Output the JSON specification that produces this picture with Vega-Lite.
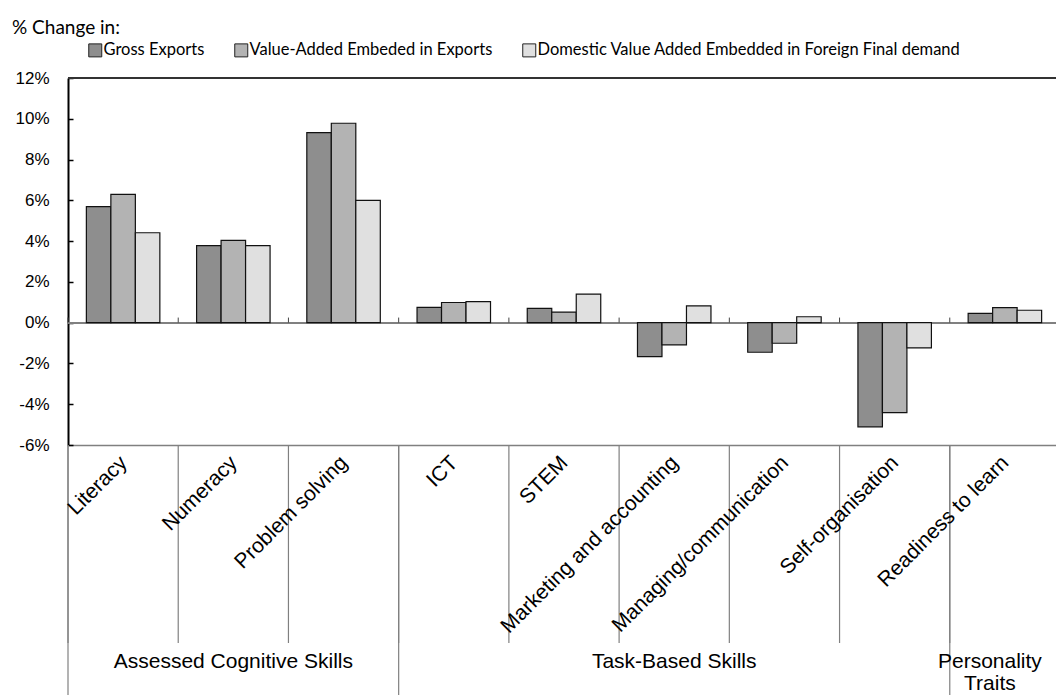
{
  "$schema": "https://vega.github.io/schema/vega-lite/v6.json",
  "width": 992,
  "height": 367,
  "autosize": {"type": "none"},
  "padding": {"left": 68, "top": 78, "right": 0, "bottom": 250},
  "background": "white",
  "config": {"view": {"stroke": null}, "font": "Liberation Sans"},
  "title": {"text": "% Change in:", "anchor": "start", "frame": "group", "dx": -56, "offset": 4, "font": "Lato", "fontSize": 19, "fontWeight": "normal", "color": "black"},
  "datasets": {
    "bars": [
      {"category": "Literacy", "series": "Gross Exports", "value": 5.69},
      {"category": "Literacy", "series": "Value-Added Embeded in Exports", "value": 6.29},
      {"category": "Literacy", "series": "Domestic Value Added Embedded in Foreign Final demand", "value": 4.41},
      {"category": "Numeracy", "series": "Gross Exports", "value": 3.78},
      {"category": "Numeracy", "series": "Value-Added Embeded in Exports", "value": 4.04},
      {"category": "Numeracy", "series": "Domestic Value Added Embedded in Foreign Final demand", "value": 3.78},
      {"category": "Problem solving", "series": "Gross Exports", "value": 9.32},
      {"category": "Problem solving", "series": "Value-Added Embeded in Exports", "value": 9.78},
      {"category": "Problem solving", "series": "Domestic Value Added Embedded in Foreign Final demand", "value": 6.0},
      {"category": "ICT", "series": "Gross Exports", "value": 0.75},
      {"category": "ICT", "series": "Value-Added Embeded in Exports", "value": 0.99},
      {"category": "ICT", "series": "Domestic Value Added Embedded in Foreign Final demand", "value": 1.03},
      {"category": "STEM", "series": "Gross Exports", "value": 0.7},
      {"category": "STEM", "series": "Value-Added Embeded in Exports", "value": 0.52},
      {"category": "STEM", "series": "Domestic Value Added Embedded in Foreign Final demand", "value": 1.4},
      {"category": "Marketing and accounting", "series": "Gross Exports", "value": -1.67},
      {"category": "Marketing and accounting", "series": "Value-Added Embeded in Exports", "value": -1.09},
      {"category": "Marketing and accounting", "series": "Domestic Value Added Embedded in Foreign Final demand", "value": 0.82},
      {"category": "Managing/communication", "series": "Gross Exports", "value": -1.45},
      {"category": "Managing/communication", "series": "Value-Added Embeded in Exports", "value": -1.01},
      {"category": "Managing/communication", "series": "Domestic Value Added Embedded in Foreign Final demand", "value": 0.29},
      {"category": "Self-organisation", "series": "Gross Exports", "value": -5.11},
      {"category": "Self-organisation", "series": "Value-Added Embeded in Exports", "value": -4.41},
      {"category": "Self-organisation", "series": "Domestic Value Added Embedded in Foreign Final demand", "value": -1.24},
      {"category": "Readiness to learn", "series": "Gross Exports", "value": 0.46},
      {"category": "Readiness to learn", "series": "Value-Added Embeded in Exports", "value": 0.74},
      {"category": "Readiness to learn", "series": "Domestic Value Added Embedded in Foreign Final demand", "value": 0.61}
    ],
    "cats": [
      {"category": "Literacy", "group": "Assessed Cognitive Skills", "groupStart": true, "groupLabel": false},
      {"category": "Numeracy", "group": "Assessed Cognitive Skills", "groupStart": false, "groupLabel": true},
      {"category": "Problem solving", "group": "Assessed Cognitive Skills", "groupStart": false, "groupLabel": false},
      {"category": "ICT", "group": "Task-Based Skills", "groupStart": true, "groupLabel": false},
      {"category": "STEM", "group": "Task-Based Skills", "groupStart": false, "groupLabel": false},
      {"category": "Marketing and accounting", "group": "Task-Based Skills", "groupStart": false, "groupLabel": true},
      {"category": "Managing/communication", "group": "Task-Based Skills", "groupStart": false, "groupLabel": false},
      {"category": "Self-organisation", "group": "Task-Based Skills", "groupStart": false, "groupLabel": false},
      {"category": "Readiness to learn", "group": "Personality Traits", "groupStart": true, "groupLabel": true}
    ]
  },
  "encoding": {
    "x": {
      "field": "category",
      "type": "nominal",
      "sort": ["Literacy", "Numeracy", "Problem solving", "ICT", "STEM", "Marketing and accounting", "Managing/communication", "Self-organisation", "Readiness to learn"],
      "scale": {"paddingInner": 0, "paddingOuter": 0},
      "axis": {"orient": "bottom", "title": null, "labels": false, "ticks": false, "domainColor": "#808080", "domainWidth": 1.5}
    }
  },
  "layer": [
    {
      "data": {"name": "bars"},
      "mark": {"type": "rule", "color": "#333333", "strokeWidth": 1.5},
      "encoding": {"x": null, "y": {"datum": 12, "type": "quantitative"}}
    },
    {
      "data": {"name": "bars"},
      "mark": {"type": "rule", "color": "#808080", "strokeWidth": 1.5},
      "encoding": {"x": null, "y": {"datum": 0, "type": "quantitative"}}
    },
    {
      "data": {"name": "cats"},
      "mark": {"type": "rule", "color": "#444444", "strokeWidth": 1},
      "encoding": {
        "x": {"field": "category", "type": "nominal", "bandPosition": 0, "sort": ["Literacy", "Numeracy", "Problem solving", "ICT", "STEM", "Marketing and accounting", "Managing/communication", "Self-organisation", "Readiness to learn"]},
        "y": {"datum": 0, "type": "quantitative"},
        "y2": {"datum": 0.25}
      }
    },
    {
      "data": {"name": "bars"},
      "mark": {"type": "bar", "stroke": "#111111", "strokeWidth": 1.2, "opacity": 1},
      "encoding": {
        "xOffset": {"field": "series", "type": "nominal", "sort": ["Gross Exports", "Value-Added Embeded in Exports", "Domestic Value Added Embedded in Foreign Final demand"], "scale": {"paddingInner": 0, "paddingOuter": 0.75}},
        "y": {
          "field": "value",
          "type": "quantitative",
          "scale": {"domain": [-6, 12], "nice": false, "zero": false},
          "axis": {"title": null, "values": [-6, -4, -2, 0, 2, 4, 6, 8, 10, 12], "labelExpr": "datum.value + '%'", "grid": false, "domainColor": "black", "domainWidth": 2, "tickColor": "black", "tickWidth": 1.5, "tickSize": -5, "labelPadding": 24, "labelFont": "Liberation Sans", "labelFontSize": 17, "labelColor": "black"}
        },
        "color": {
          "field": "series",
          "type": "nominal",
          "sort": ["Gross Exports", "Value-Added Embeded in Exports", "Domestic Value Added Embedded in Foreign Final demand"],
          "scale": {"domain": ["Gross Exports", "Value-Added Embeded in Exports", "Domestic Value Added Embedded in Foreign Final demand"], "range": ["#8e8e8e", "#b3b3b3", "#e0e0e0"]},
          "legend": {"orient": "none", "legendX": 19, "legendY": -36, "direction": "horizontal", "title": null, "padding": 0, "symbolType": "square", "symbolSize": 169, "symbolStrokeColor": "#222222", "symbolStrokeWidth": 1, "symbolOpacity": 1, "labelFont": "Lato", "labelFontSize": 16.5, "labelColor": "black", "labelOffset": 0, "columnPadding": 27, "labelLimit": 600}
        }
      }
    },
    {
      "data": {"name": "cats"},
      "mark": {"type": "rule", "color": "#808080", "strokeWidth": 1.2},
      "encoding": {
        "x": {"field": "category", "type": "nominal", "bandPosition": 0, "sort": ["Literacy", "Numeracy", "Problem solving", "ICT", "STEM", "Marketing and accounting", "Managing/communication", "Self-organisation", "Readiness to learn"]},
        "y": {"datum": -6, "type": "quantitative"},
        "y2": {"datum": -15.71}
      }
    },
    {
      "data": {"name": "cats"},
      "transform": [{"filter": "datum.groupStart"}],
      "mark": {"type": "rule", "color": "#808080", "strokeWidth": 1.2},
      "encoding": {
        "x": {"field": "category", "type": "nominal", "bandPosition": 0, "sort": ["Literacy", "Numeracy", "Problem solving", "ICT", "STEM", "Marketing and accounting", "Managing/communication", "Self-organisation", "Readiness to learn"]},
        "y": {"datum": -6, "type": "quantitative"},
        "y2": {"datum": -18.6}
      }
    },
    {
      "data": {"name": "cats"},
      "mark": {"type": "text", "angle": 315, "align": "right", "baseline": "middle", "dx": -10, "dy": 11, "font": "Liberation Sans", "fontSize": 21, "color": "black"},
      "encoding": {
        "x": {"field": "category", "type": "nominal", "sort": ["Literacy", "Numeracy", "Problem solving", "ICT", "STEM", "Marketing and accounting", "Managing/communication", "Self-organisation", "Readiness to learn"]},
        "y": {"datum": -6, "type": "quantitative"},
        "text": {"field": "category"}
      }
    },
    {
      "data": {"name": "cats"},
      "transform": [{"filter": "datum.groupLabel && datum.group != 'Personality Traits'"}],
      "mark": {"type": "text", "align": "center", "baseline": "middle", "font": "Liberation Sans", "fontSize": 21, "color": "black"},
      "encoding": {
        "x": {"field": "category", "type": "nominal", "sort": ["Literacy", "Numeracy", "Problem solving", "ICT", "STEM", "Marketing and accounting", "Managing/communication", "Self-organisation", "Readiness to learn"]},
        "y": {"datum": -16.64, "type": "quantitative"},
        "text": {"field": "group"}
      }
    },
    {
      "data": {"name": "cats"},
      "transform": [{"filter": "datum.groupLabel && datum.group == 'Personality Traits'"}],
      "mark": {"type": "text", "align": "center", "baseline": "middle", "lineBreak": " ", "lineHeight": 22, "dx": -15, "dy": 0, "font": "Liberation Sans", "fontSize": 21, "color": "black"},
      "encoding": {
        "x": {"field": "category", "type": "nominal", "sort": ["Literacy", "Numeracy", "Problem solving", "ICT", "STEM", "Marketing and accounting", "Managing/communication", "Self-organisation", "Readiness to learn"]},
        "y": {"datum": -16.64, "type": "quantitative"},
        "text": {"field": "group"}
      }
    }
  ]
}
